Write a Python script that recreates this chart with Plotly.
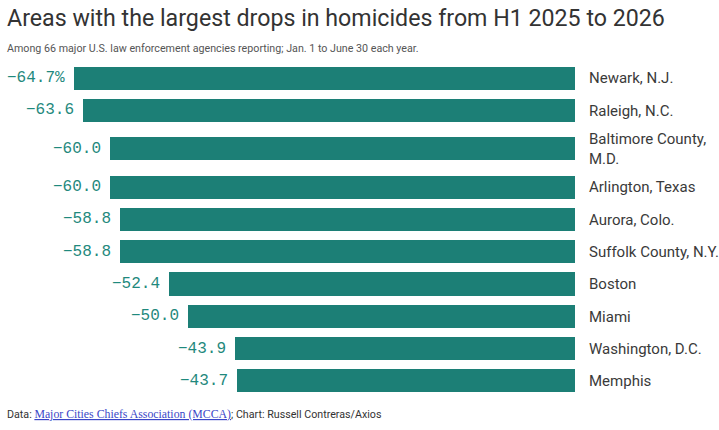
import plotly.graph_objects as go

# data
areas = ["Newark, N.J.", "Raleigh, N.C.", "Baltimore County,<br>M.D.", "Arlington, Texas",
         "Aurora, Colo.", "Suffolk County, N.Y.", "Boston", "Miami",
         "Washington, D.C.", "Memphis"]
pct_change = [-64.7, -63.6, -60.0, -60.0, -58.8, -58.8, -52.4, -50.0, -43.9, -43.7]

BAR_COLOR = "#1c7f76"
TEXT_TEAL = "#1f897d"
DARK = "#333333"

# plot area in pixels (for placing the header/footer texts)
W, H = 719, 430
L, R, T, B = 74, 144, 62, 33
pw, ph = W - L - R, H - T - B


def px(x):
    return (x - L) / pw


def py(y):
    return (H - B - y) / ph


# rows with a two-line label get a bit more room, like the original
row_h = [1 + 0.375 * a.count("<br>") for a in areas]
y_pos = []
top = 0
for h in row_h:
    y_pos.append(top + h / 2)
    top += h

fig = go.Figure()
fig.add_trace(go.Bar(
    x=pct_change,
    y=y_pos,
    orientation="h",
    width=0.72,
    marker_color=BAR_COLOR,
    marker_line_width=0,
    hovertemplate="%{x:.1f}%<extra></extra>",
))

# value labels left of each bar
for i, (v, yy) in enumerate(zip(pct_change, y_pos)):
    label = f"{v:.1f}".replace("-", "\u2212") + ("%" if i == 0 else "")
    fig.add_annotation(
        x=v, y=yy, text=label, showarrow=False,
        xanchor="right", yanchor="middle", xshift=-7,
        font=dict(family="Liberation Mono, DejaVu Sans Mono, monospace", size=16, color=TEXT_TEAL),
    )

# title, subtitle, footer
fig.add_annotation(
    xref="paper", yref="paper", x=px(5), y=py(18), xanchor="left", yanchor="middle",
    showarrow=False, text="Areas with the largest drops in homicides from H1 2025 to 2026",
    font=dict(family="Roboto", size=23.2, color=DARK),
)
fig.add_annotation(
    xref="paper", yref="paper", x=px(5), y=py(49), xanchor="left", yanchor="middle",
    showarrow=False,
    text="Among 66 major U.S. law enforcement agencies reporting; Jan. 1 to June 30 each year.",
    font=dict(family="Roboto", size=10.7, color="#555555"),
)
fig.add_annotation(
    xref="paper", yref="paper", x=px(5), y=py(414), xanchor="left", yanchor="middle",
    showarrow=False, align="left",
    text=("Data: <a href='https://majorcitieschiefs.com' style='color:#3a46c8;"
          "font-family:Liberation Serif;font-size:11.8px;text-decoration:underline'>"
          "Major Cities Chiefs Association (MCCA)</a>; Chart: Russell Contreras/Axios"),
    font=dict(family="Roboto", size=10.7, color=DARK),
)

fig.update_layout(
    width=W, height=H,
    margin=dict(l=L, r=R, t=T, b=B, autoexpand=False),
    paper_bgcolor="white", plot_bgcolor="white",
    showlegend=False,
    bargap=0,
    font=dict(family="Roboto", color=DARK),
)

fig.update_xaxes(range=[min(pct_change), 0], visible=False, fixedrange=True, automargin=False)
fig.update_yaxes(
    range=[top, 0],
    tickvals=y_pos, ticktext=areas,
    side="right", ticks="", showgrid=False, zeroline=False, showline=False,
    ticklabelstandoff=13, automargin=False,
    tickfont=dict(family="Roboto", size=15, color="#3a3a3a"),
    fixedrange=True,
)

# page has a default 8px body margin; drop it so the figure sits at the window corner
fig.write_html("out.html", config={"displayModeBar": False},
               post_script="document.body.style.margin='0';")
